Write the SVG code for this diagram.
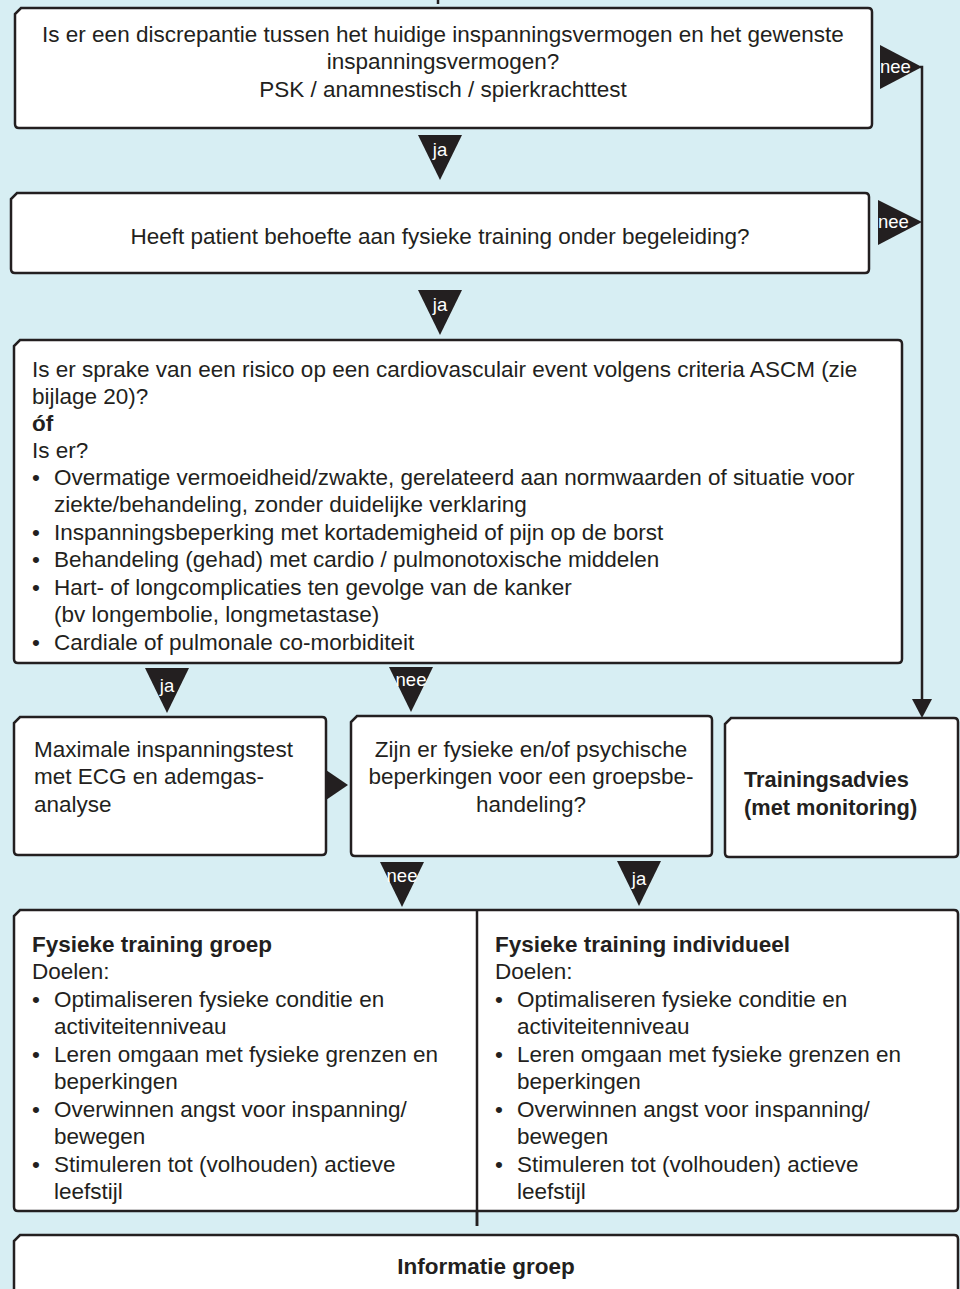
<svg xmlns="http://www.w3.org/2000/svg" width="960" height="1289" viewBox="0 0 960 1289">
<defs>
<style>
.box{fill:#fff;stroke:#231f20;stroke-width:2.5}
.t{font-family:"Liberation Sans",Arial,sans-serif;font-size:22.5px;fill:#231f20}
.b{font-weight:bold}
.c{text-anchor:middle}
.s{font-size:21.8px}
.tri{fill:#231f20}
.tl{font-family:"Liberation Sans",Arial,sans-serif;font-size:18.5px;fill:#fff}
.ln{stroke:#231f20;stroke-width:2.5;fill:none}
</style>
</defs>
<rect width="960" height="1289" fill="#d7eef3"/>
<g id="connectors">
<line class="ln" x1="438" y1="0" x2="438" y2="4"/>
<polyline class="ln" points="920,67 922,67 922,702"/>
<polygon class="tri" points="912,699 932,699 922,718"/>
<line class="ln" x1="477" y1="910" x2="477" y2="1226"/>
<polygon class="tri" points="880,45 922,67 880,89"/>
<text class="tl" x="880" y="73">nee</text>
<polygon class="tri" points="878,200 922,222 878,245"/>
<text class="tl" x="878" y="228">nee</text>
<polygon class="tri" points="418,135 462,135 440,180"/>
<text class="tl c" x="440" y="156">ja</text>
<polygon class="tri" points="418,290 462,290 440,335"/>
<text class="tl c" x="440" y="311">ja</text>
<polygon class="tri" points="145,668 189,668 167,713"/>
<text class="tl c" x="167" y="692">ja</text>
<polygon class="tri" points="389,667 433,667 411,712"/>
<text class="tl c" x="411" y="686">nee</text>
<polygon class="tri" points="326,770 348,785 326,800"/>
<polygon class="tri" points="380,862 424,862 402,907"/>
<text class="tl c" x="402" y="882">nee</text>
<polygon class="tri" points="617,861 661,861 639,906"/>
<text class="tl c" x="639" y="885">ja</text>
</g>
<g id="n1">
<path class="box" d="M21 8 H868 Q872 8 872 12 V124 Q872 128 868 128 H19 Q15 128 15 124 V14 Z"/>
<text class="t c" x="443" y="42">Is er een discrepantie tussen het huidige inspanningsvermogen en het gewenste</text>
<text class="t c" x="443" y="69">inspanningsvermogen?</text>
<text class="t c" x="443" y="97">PSK / anamnestisch / spierkrachttest</text>
</g>
<g id="n2">
<path class="box" d="M17 193 H865 Q869 193 869 197 V269 Q869 273 865 273 H15 Q11 273 11 269 V199 Z"/>
<text class="t c" x="440" y="244">Heeft patient behoefte aan fysieke training onder begeleiding?</text>
</g>
<g id="n3">
<path class="box" d="M20 340 H898 Q902 340 902 344 V659 Q902 663 898 663 H18 Q14 663 14 659 V346 Z"/>
<text class="t" x="32" y="377">Is er sprake van een risico op een cardiovasculair event volgens criteria ASCM (zie</text>
<text class="t" x="32" y="404">bijlage 20)?</text>
<text class="t b" x="32" y="431">óf</text>
<text class="t" x="32" y="458">Is er?</text>
<text class="t" x="32" y="485">•</text><text class="t" x="54" y="485">Overmatige vermoeidheid/zwakte, gerelateerd aan normwaarden of situatie voor</text>
<text class="t" x="54" y="512">ziekte/behandeling, zonder duidelijke verklaring</text>
<text class="t" x="32" y="540">•</text><text class="t" x="54" y="540">Inspanningsbeperking met kortademigheid of pijn op de borst</text>
<text class="t" x="32" y="567">•</text><text class="t" x="54" y="567">Behandeling (gehad) met cardio / pulmonotoxische middelen</text>
<text class="t" x="32" y="595">•</text><text class="t" x="54" y="595">Hart- of longcomplicaties ten gevolge van de kanker</text>
<text class="t" x="54" y="622">(bv longembolie, longmetastase)</text>
<text class="t" x="32" y="650">•</text><text class="t" x="54" y="650">Cardiale of pulmonale co-morbiditeit</text>
</g>
<g id="n4">
<path class="box" d="M20 717 H322 Q326 717 326 721 V851 Q326 855 322 855 H18 Q14 855 14 851 V723 Z"/>
<text class="t" x="34" y="757">Maximale inspanningstest</text>
<text class="t" x="34" y="784">met ECG en ademgas-</text>
<text class="t" x="34" y="812">analyse</text>
</g>
<g id="n5">
<path class="box" d="M357 716 H708 Q712 716 712 720 V852 Q712 856 708 856 H355 Q351 856 351 852 V722 Z"/>
<text class="t c" x="531" y="757">Zijn er fysieke en/of psychische</text>
<text class="t c" x="531" y="784">beperkingen voor een groepsbe-</text>
<text class="t c" x="531" y="812">handeling?</text>
</g>
<g id="n6">
<path class="box" d="M731 718 H954 Q958 718 958 722 V853 Q958 857 954 857 H729 Q725 857 725 853 V724 Z"/>
<text class="t b s" x="744" y="787">Trainingsadvies</text>
<text class="t b s" x="744" y="815">(met monitoring)</text>
</g>
<g id="n7">
<path class="box" d="M20 910 H954 Q958 910 958 914 V1207 Q958 1211 954 1211 H18 Q14 1211 14 1207 V916 Z"/>
<line class="ln" x1="477" y1="910" x2="477" y2="1226"/>
<text class="t b" x="32" y="952">Fysieke training groep</text>
<text class="t" x="32" y="979">Doelen:</text>
<text class="t" x="32" y="1007">•</text><text class="t" x="54" y="1007">Optimaliseren fysieke conditie en</text>
<text class="t" x="54" y="1034">activiteitenniveau</text>
<text class="t" x="32" y="1062">•</text><text class="t" x="54" y="1062">Leren omgaan met fysieke grenzen en</text>
<text class="t" x="54" y="1089">beperkingen</text>
<text class="t" x="32" y="1117">•</text><text class="t" x="54" y="1117">Overwinnen angst voor inspanning/</text>
<text class="t" x="54" y="1144">bewegen</text>
<text class="t" x="32" y="1172">•</text><text class="t" x="54" y="1172">Stimuleren tot (volhouden) actieve</text>
<text class="t" x="54" y="1199">leefstijl</text>
<text class="t b" x="495" y="952">Fysieke training individueel</text>
<text class="t" x="495" y="979">Doelen:</text>
<text class="t" x="495" y="1007">•</text><text class="t" x="517" y="1007">Optimaliseren fysieke conditie en</text>
<text class="t" x="517" y="1034">activiteitenniveau</text>
<text class="t" x="495" y="1062">•</text><text class="t" x="517" y="1062">Leren omgaan met fysieke grenzen en</text>
<text class="t" x="517" y="1089">beperkingen</text>
<text class="t" x="495" y="1117">•</text><text class="t" x="517" y="1117">Overwinnen angst voor inspanning/</text>
<text class="t" x="517" y="1144">bewegen</text>
<text class="t" x="495" y="1172">•</text><text class="t" x="517" y="1172">Stimuleren tot (volhouden) actieve</text>
<text class="t" x="517" y="1199">leefstijl</text>
</g>
<g id="n8">
<path class="box" d="M20 1235 H954 Q958 1235 958 1239 V1300 H14 V1241 Z"/>
<text class="t b c" x="486" y="1274">Informatie groep</text>
</g>
</svg>
